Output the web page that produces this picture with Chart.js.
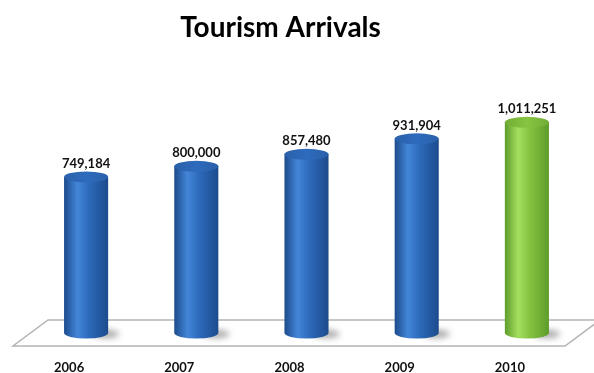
<!DOCTYPE html>
<html>
<head>
<meta charset="utf-8">
<script src="https://cdn.jsdelivr.net/npm/chart.js@4"></script>
<style>
  html, body { margin: 0; padding: 0; background: #fff; }
  #wrap { width: 594px; height: 373px; }
</style>
</head>
<body>
<div id="wrap"><canvas id="arrivalsChart" width="594" height="373"></canvas></div>
<script>
// data
const chartTitle = 'Tourism Arrivals';
const years = ['2006', '2007', '2008', '2009', '2010'];
const arrivals = [749184, 800000, 857480, 931904, 1011251];
const yRange = [0, 1200000];

const blue = { dark: '#1c4b8c', light: '#4386d8', mid: '#2e6bbc', cap: '#2a60aa' };
const green = { dark: '#5e9c2b', light: '#a4df5f', mid: '#86c441', cap: '#73ad36' };

function ellipsePath(ctx, cx, cy, rx, ry) {
    ctx.beginPath();
    ctx.ellipse(cx, cy, rx, ry, 0, 0, Math.PI * 2);
}

// title sits a bit left of the plot centre in the original
const titlePlugin = {
    id: 'offsetTitle',
    afterDraw(chart) {
        const { ctx } = chart;
        ctx.save();
        ctx.font = 'bold 28px Lato';
        ctx.fillStyle = '#000';
        ctx.textAlign = 'center';
        ctx.textBaseline = 'alphabetic';
        ctx.fillText(chartTitle, 280.5, 37);
        ctx.restore();
    }
};

// 3d floor plane under the bars
const floorPlugin = {
    id: 'floor',
    beforeDatasetsDraw(chart) {
        const { ctx, chartArea } = chart;
        const b = chartArea.bottom, l = chartArea.left, r = chartArea.right;
        ctx.save();
        ctx.beginPath();
        ctx.moveTo(l - 18, b + 13);
        ctx.lineTo(r - 17, b + 13);
        ctx.lineTo(r + 18, b - 13);
        ctx.lineTo(l + 17, b - 13);
        ctx.closePath();
        ctx.fillStyle = '#ffffff';
        ctx.fill();
        ctx.strokeStyle = '#b4b4b4';
        ctx.lineWidth = 1.5;
        ctx.stroke();
        ctx.restore();
    }
};

// turn the flat bars into shaded cylinders, then put value labels on top
const cylinderPlugin = {
    id: 'cylinders',
    afterDatasetsDraw(chart) {
        const { ctx } = chart;
        const meta = chart.getDatasetMeta(0);
        meta.data.forEach((bar, i) => {
            const { x, y, base, width } = bar.getProps(['x', 'y', 'base', 'width'], true);
            const c = i === years.length - 1 ? green : blue;
            const rx = width / 2, ry = 5.5;
            const left = x - rx, right = x + rx;

            // soft shadow at the foot
            ctx.save();
            ctx.filter = 'blur(3px)';
            ctx.fillStyle = 'rgba(0,0,0,0.35)';
            ellipsePath(ctx, right - 2, base + 1, 13, 4);
            ctx.fill();
            ctx.restore();

            // body
            ctx.save();
            const grad = ctx.createLinearGradient(left, 0, right, 0);
            grad.addColorStop(0, c.dark);
            grad.addColorStop(0.3, c.light);
            grad.addColorStop(0.55, c.mid);
            grad.addColorStop(1, c.dark);
            ctx.beginPath();
            ctx.moveTo(left, y);
            ctx.lineTo(left, base);
            ctx.ellipse(x, base, rx, ry, 0, Math.PI, 0, true);
            ctx.lineTo(right, y);
            ctx.closePath();
            ctx.fillStyle = grad;
            ctx.fill();

            // top cap
            const capGrad = ctx.createLinearGradient(left, 0, right, 0);
            capGrad.addColorStop(0, c.cap);
            capGrad.addColorStop(0.5, c.mid);
            capGrad.addColorStop(1, c.cap);
            ellipsePath(ctx, x, y, rx, ry);
            ctx.fillStyle = capGrad;
            ctx.fill();
            ctx.restore();

            // value label
            ctx.save();
            ctx.font = 'bold 13px Lato';
            ctx.fillStyle = '#111';
            ctx.textAlign = 'center';
            ctx.textBaseline = 'alphabetic';
            ctx.fillText(arrivals[i].toLocaleString('en-US'), x, y - 9);
            ctx.restore();
        });
    }
};

const ctx = document.getElementById('arrivalsChart').getContext('2d');
new Chart(ctx, {
    type: 'bar',
    data: {
        labels: years,
        datasets: [{
            label: chartTitle,
            data: arrivals,
            backgroundColor: 'rgba(0,0,0,0)',
            borderWidth: 0,
            barPercentage: 0.8,
            categoryPercentage: 0.5
        }]
    },
    options: {
        responsive: false,
        animation: false,
        layout: { padding: { left: 31, right: 12, top: 83, bottom: 0 } },
        plugins: {
            legend: { display: false },
            tooltip: { enabled: false },
            title: { display: false }
        },
        scales: {
            x: {
                grid: { display: false, drawTicks: false },
                border: { display: false },
                ticks: {
                    color: '#111',
                    padding: 27,
                    labelOffset: -17,
                    font: { family: 'Lato', size: 13, weight: 'bold' }
                },
                afterFit(scale) { scale.height = 40; }
            },
            y: {
                display: false,
                min: yRange[0],
                max: yRange[1]
            }
        }
    },
    plugins: [floorPlugin, cylinderPlugin, titlePlugin]
});
</script>
</body>
</html>
